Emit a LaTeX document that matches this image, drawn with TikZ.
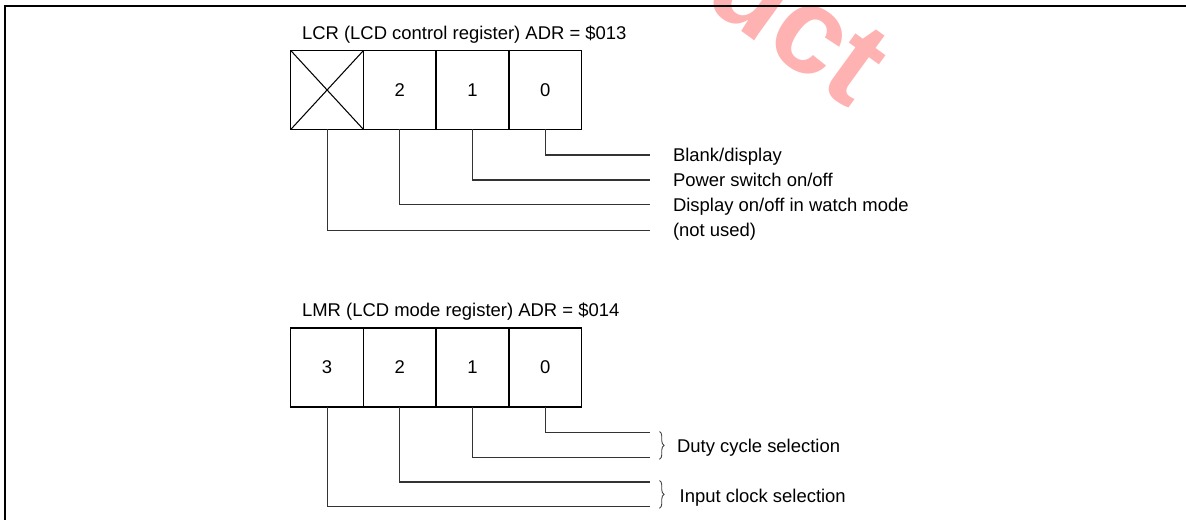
\documentclass[tikz,border=0pt]{standalone}
\usepackage{fontspec}
\setmainfont{Liberation Sans}
\usepackage{tikz}
\usetikzlibrary{positioning,decorations.pathreplacing}

\begin{document}
\begin{tikzpicture}[
  x=0.02cm, y=-0.02cm,
  every node/.style={font=\fontsize{10.5}{12.6}\selectfont},
  frameline/.style={line width=1.1pt},
  bitcell/.style={draw, line width=0.85pt, minimum width=1.455cm, minimum height=1.58cm,
    inner sep=0pt, outer sep=0pt},
  leader/.style={line width=0.6pt, black!80},
  bitlabel/.style={anchor=west, inner sep=0pt, text height=7.5pt, text depth=0pt},
  regtitle/.style={anchor=base west, inner sep=0pt},
  groupbrace/.style={decorate, decoration={brace, amplitude=2.6pt}, line width=0.5pt, black!75},
  stamptext/.style={anchor=base east, inner sep=0pt, rotate=-36, text=red!30,
    font=\bfseries\fontsize{70}{74}\selectfont},
]
\useasboundingbox (0,0) rectangle (1186,520);

% Watermark (clipped at the page edge)
\begin{scope}
  \clip (0,0) rectangle (1186,520);
  \node[stamptext] (stamp) at (850,110) {Product};
\end{scope}

% Page frame
\draw[frameline] (5,520) -- (5,6) -- (1186,6);

%%% LCR register %%%
\node[regtitle] (lcrtitle) at (301.7,40) {LCR (LCD control register) ADR = \$013};
\node[bitcell] (lcrx) at (327.1,90) {};
\node[bitcell, right=0pt of lcrx] (lcr2) {2};
\node[bitcell, right=0pt of lcr2] (lcr1) {1};
\node[bitcell, right=0pt of lcr1] (lcr0) {0};
\draw[line width=0.6pt] (lcrx.north west) -- (lcrx.south east)
  (lcrx.north east) -- (lcrx.south west);

% Bit leaders
\coordinate (lcrend0) at (649.5,155);
\coordinate (lcrend1) at (649.5,180);
\coordinate (lcrend2) at (649.5,204.5);
\coordinate (lcrendx) at (649.5,230.3);
\draw[leader] (lcr0.south) |- (lcrend0);
\draw[leader] (lcr1.south) |- (lcrend1);
\draw[leader] (lcr2.south) |- (lcrend2);
\draw[leader] (lcrx.south) |- (lcrendx);
\node[bitlabel, right=0.464cm of lcrend0] (lcrtxt0) {Blank/display};
\node[bitlabel, right=0.464cm of lcrend1] (lcrtxt1) {Power switch on/off};
\node[bitlabel, right=0.464cm of lcrend2] (lcrtxt2) {Display on/off in watch mode};
\node[bitlabel, right=0.464cm of lcrendx] (lcrtxtx) {(not used)};

%%% LMR register %%%
\node[regtitle] (lmrtitle) at (301.7,316.7) {LMR (LCD mode register) ADR = \$014};
\node[bitcell] (lmr3) at (327.1,367.5) {3};
\node[bitcell, right=0pt of lmr3] (lmr2) {2};
\node[bitcell, right=0pt of lmr2] (lmr1) {1};
\node[bitcell, right=0pt of lmr1] (lmr0) {0};

% Bit leaders
\coordinate (lmrend0) at (649.5,432.3);
\coordinate (lmrend1) at (649.5,457.3);
\coordinate (lmrend2) at (649.5,482);
\coordinate (lmrend3) at (649.5,506.7);
\draw[leader] (lmr0.south) |- (lmrend0);
\draw[leader] (lmr1.south) |- (lmrend1);
\draw[leader] (lmr2.south) |- (lmrend2);
\draw[leader] (lmr3.south) |- (lmrend3);

% Grouping braces
\coordinate (dutytop) at (659.5,431.5);
\coordinate (dutybot) at (659.5,459.3);
\coordinate (clocktop) at (659.5,480.5);
\coordinate (clockbot) at (659.5,508.3);
\draw[groupbrace] (dutytop) -- (dutybot);
\draw[groupbrace] (clocktop) -- (clockbot);
\node[bitlabel] (dutytxt) at (676.7,445.5) {Duty cycle selection};
\node[bitlabel] (clocktxt) at (679.3,495.8) {Input clock selection};

\end{tikzpicture}
\end{document}
